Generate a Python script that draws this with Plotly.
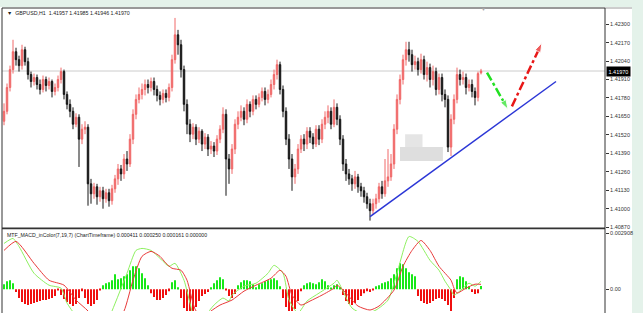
import plotly.graph_objects as go

# ---------------- data ----------------
bar_index = list(range(160))

opens = [
1.41616, 1.41686, 1.41854, 1.41980, 1.42106, 1.42050, 1.42008, 1.42120, 1.42036, 1.41945,
1.41896, 1.41924, 1.41875, 1.41840, 1.41910, 1.41868, 1.41896, 1.41826, 1.41854, 1.41910,
1.41966, 1.41805, 1.41735, 1.41686, 1.41595, 1.41644, 1.41490, 1.41560, 1.41574, 1.41175,
1.41105, 1.41154, 1.41084, 1.41126, 1.41070, 1.41112, 1.41056, 1.41140, 1.41210, 1.41280,
1.41245, 1.41350, 1.41315, 1.41490, 1.41665, 1.41770, 1.41805, 1.41840, 1.41875, 1.41854,
1.41896, 1.41840, 1.41798, 1.41770, 1.41812, 1.41784, 1.41854, 1.42050, 1.42225, 1.42155,
1.41980, 1.41735, 1.41595, 1.41525, 1.41574, 1.41490, 1.41546, 1.41455, 1.41504, 1.41420,
1.41441, 1.41406, 1.41490, 1.41560, 1.41665, 1.41350, 1.41280, 1.41420, 1.41595, 1.41644,
1.41686, 1.41630, 1.41735, 1.41686, 1.41770, 1.41735, 1.41784, 1.41826, 1.41770, 1.41805,
1.41875, 1.41945, 1.42015, 1.41840, 1.41686, 1.41490, 1.41350, 1.41224, 1.41280, 1.41420,
1.41490, 1.41455, 1.41546, 1.41504, 1.41455, 1.41560, 1.41490, 1.41595, 1.41644, 1.41686,
1.41595, 1.41714, 1.41630, 1.41490, 1.41315, 1.41245, 1.41210, 1.41175, 1.41224, 1.41154,
1.41126, 1.41084, 1.41035, 1.40986, 1.41035, 1.41070, 1.41154, 1.41105, 1.41196, 1.41224,
1.41315, 1.41560, 1.41770, 1.41910, 1.42050, 1.42120, 1.42085, 1.42015, 1.42036, 1.41980,
1.42050, 1.41945, 1.41994, 1.41910, 1.41966, 1.41840, 1.41924, 1.41805, 1.41770, 1.41434,
1.41630, 1.41770, 1.41945, 1.41910, 1.41924, 1.41854, 1.41875, 1.41826, 1.41784, 1.41957,
]

closes = [
1.41686, 1.41854, 1.41980, 1.42106, 1.42050, 1.42008, 1.42120, 1.42036, 1.41945, 1.41896,
1.41924, 1.41875, 1.41840, 1.41910, 1.41868, 1.41896, 1.41826, 1.41854, 1.41910, 1.41966,
1.41805, 1.41735, 1.41686, 1.41595, 1.41644, 1.41490, 1.41560, 1.41574, 1.41175, 1.41105,
1.41154, 1.41084, 1.41126, 1.41070, 1.41112, 1.41056, 1.41140, 1.41210, 1.41280, 1.41245,
1.41350, 1.41315, 1.41490, 1.41665, 1.41770, 1.41805, 1.41840, 1.41875, 1.41854, 1.41896,
1.41840, 1.41798, 1.41770, 1.41812, 1.41784, 1.41854, 1.42050, 1.42225, 1.42155, 1.41980,
1.41735, 1.41595, 1.41525, 1.41574, 1.41490, 1.41546, 1.41455, 1.41504, 1.41420, 1.41441,
1.41406, 1.41490, 1.41560, 1.41665, 1.41350, 1.41280, 1.41420, 1.41595, 1.41644, 1.41686,
1.41630, 1.41735, 1.41686, 1.41770, 1.41735, 1.41784, 1.41826, 1.41770, 1.41805, 1.41875,
1.41945, 1.42015, 1.41840, 1.41686, 1.41490, 1.41350, 1.41224, 1.41280, 1.41420, 1.41490,
1.41455, 1.41546, 1.41504, 1.41455, 1.41560, 1.41490, 1.41595, 1.41644, 1.41686, 1.41595,
1.41714, 1.41630, 1.41490, 1.41315, 1.41245, 1.41210, 1.41175, 1.41224, 1.41154, 1.41126,
1.41084, 1.41035, 1.40986, 1.41035, 1.41070, 1.41154, 1.41105, 1.41196, 1.41224, 1.41315,
1.41560, 1.41770, 1.41910, 1.42050, 1.42120, 1.42085, 1.42015, 1.42036, 1.41980, 1.42050,
1.41945, 1.41994, 1.41910, 1.41966, 1.41840, 1.41924, 1.41805, 1.41770, 1.41434, 1.41630,
1.41770, 1.41945, 1.41910, 1.41924, 1.41854, 1.41875, 1.41826, 1.41784, 1.41952, 1.41970,
]

highs = [
1.41742, 1.41882, 1.42008, 1.42190, 1.42134, 1.42078, 1.42155, 1.42141, 1.42064, 1.41966,
1.41952, 1.41945, 1.41910, 1.41938, 1.41931, 1.41924, 1.41910, 1.41882, 1.41938, 1.41994,
1.41980, 1.41826, 1.41770, 1.41714, 1.41672, 1.41665, 1.41595, 1.41616, 1.41595, 1.41210,
1.41182, 1.41175, 1.41154, 1.41154, 1.41140, 1.41140, 1.41168, 1.41238, 1.41315, 1.41308,
1.41385, 1.41406, 1.41525, 1.41700, 1.41805, 1.41854, 1.41882, 1.41910, 1.41910, 1.41924,
1.41924, 1.41868, 1.41826, 1.41840, 1.41840, 1.41882, 1.42085, 1.42344, 1.42260, 1.42190,
1.42008, 1.41770, 1.41630, 1.41602, 1.41595, 1.41574, 1.41560, 1.41532, 1.41525, 1.41476,
1.41469, 1.41518, 1.41588, 1.41714, 1.41700, 1.41385, 1.41455, 1.41630, 1.41686, 1.41728,
1.41714, 1.41770, 1.41756, 1.41798, 1.41798, 1.41812, 1.41854, 1.41854, 1.41840, 1.41910,
1.41980, 1.42050, 1.42036, 1.41868, 1.41714, 1.41525, 1.41385, 1.41315, 1.41455, 1.41518,
1.41525, 1.41574, 1.41574, 1.41532, 1.41588, 1.41588, 1.41630, 1.41686, 1.41728, 1.41714,
1.41770, 1.41742, 1.41658, 1.41518, 1.41350, 1.41280, 1.41238, 1.41266, 1.41245, 1.41182,
1.41154, 1.41112, 1.41070, 1.41070, 1.41105, 1.41182, 1.41196, 1.41350, 1.41420, 1.41385,
1.41595, 1.41805, 1.41945, 1.42085, 1.42176, 1.42176, 1.42120, 1.42078, 1.42064, 1.42092,
1.42078, 1.42036, 1.42022, 1.42008, 1.41994, 1.41952, 1.41952, 1.41840, 1.41798, 1.41665,
1.41805, 1.41994, 1.41980, 1.41966, 1.41952, 1.41910, 1.41910, 1.41854, 1.41966, 1.41985,
]

lows = [
1.41588, 1.41665, 1.41826, 1.41952, 1.42008, 1.41966, 1.41980, 1.42008, 1.41910, 1.41854,
1.41868, 1.41840, 1.41805, 1.41819, 1.41826, 1.41840, 1.41784, 1.41798, 1.41826, 1.41882,
1.41770, 1.41700, 1.41644, 1.41560, 1.41574, 1.41294, 1.41455, 1.41525, 1.41021, 1.41035,
1.41070, 1.41028, 1.41049, 1.41000, 1.41042, 1.41014, 1.41028, 1.41112, 1.41168, 1.41196,
1.41210, 1.41266, 1.41294, 1.41455, 1.41630, 1.41742, 1.41770, 1.41798, 1.41812, 1.41826,
1.41798, 1.41756, 1.41728, 1.41742, 1.41749, 1.41756, 1.41826, 1.42022, 1.42085, 1.41924,
1.41686, 1.41525, 1.41469, 1.41490, 1.41448, 1.41462, 1.41406, 1.41420, 1.41371, 1.41385,
1.41364, 1.41378, 1.41462, 1.41532, 1.41091, 1.41175, 1.41245, 1.41385, 1.41560, 1.41616,
1.41588, 1.41602, 1.41644, 1.41658, 1.41700, 1.41714, 1.41756, 1.41728, 1.41742, 1.41784,
1.41840, 1.41910, 1.41805, 1.41644, 1.41448, 1.41280, 1.41126, 1.41175, 1.41245, 1.41392,
1.41406, 1.41420, 1.41462, 1.41420, 1.41434, 1.41448, 1.41462, 1.41560, 1.41602, 1.41560,
1.41574, 1.41588, 1.41448, 1.41266, 1.41196, 1.41168, 1.41126, 1.41140, 1.41112, 1.41084,
1.41042, 1.41000, 1.40916, 1.40958, 1.41000, 1.41042, 1.41070, 1.41084, 1.41154, 1.41196,
1.41280, 1.41525, 1.41735, 1.41875, 1.42008, 1.42036, 1.41966, 1.41980, 1.41938, 1.41952,
1.41910, 1.41896, 1.41854, 1.41868, 1.41798, 1.41805, 1.41756, 1.41714, 1.41399, 1.41371,
1.41595, 1.41742, 1.41868, 1.41875, 1.41805, 1.41826, 1.41784, 1.41728, 1.41756, 1.41946,
]

macd_hist = [
0.000257, 0.000412, 0.000463, 0.000309, -0.000154, -0.000463, -0.000669, -0.000772, -0.000824, -0.000772,
-0.000721, -0.000669, -0.000618, -0.000566, -0.000566, -0.000515, -0.000463, -0.000360, -0.000051, -0.000309,
-0.000515, -0.000669, -0.000772, -0.000875, -0.000772, -0.000463, -0.000103, -0.000463, -0.000772, -0.000875,
-0.000772, -0.000566, -0.000051, 0.000206, 0.000309, 0.000360, 0.000463, 0.000772, 0.000515, 0.000566,
0.000669, 0.000772, 0.000978, 0.001184, 0.001184, 0.001081, 0.000824, 0.000566, 0.000206, -0.000206,
-0.000412, -0.000566, -0.000566, -0.000463, -0.000309, -0.000103, 0.000360, 0.000463, 0.000103, -0.000463,
-0.000978, -0.001287, -0.001235, -0.001132, -0.000926, -0.000618, -0.000360, -0.000257, -0.000154, 0.000103,
0.000309, 0.000463, 0.000618, 0.000515, -0.000051, -0.000360, -0.000463, -0.000257, 0.000206, 0.000360,
0.000463, 0.000463, 0.000412, 0.000257, 0.000103, 0.000257, 0.000309, 0.000412, 0.000463, 0.000515,
0.000566, 0.000463, 0.000154, -0.000463, -0.000926, -0.001235, -0.001287, -0.001029, -0.000618, -0.000103,
0.000206, 0.000309, 0.000360, 0.000309, 0.000257, 0.000360, 0.000515, 0.000412, 0.000206, 0.000051,
0.000206, 0.000257, 0.000103, -0.000309, -0.000618, -0.000772, -0.000824, -0.000721, -0.000566, -0.000360,
-0.000206, -0.000103, -0.000154, -0.000051, 0.000154, 0.000206, 0.000309, 0.000360, 0.000412, 0.000566,
0.000772, 0.001081, 0.001338, 0.001287, 0.001081, 0.000875, 0.000772, 0.000669, -0.000360, -0.000618,
-0.000721, -0.000772, -0.000721, -0.000618, -0.000515, -0.000463, -0.000515, -0.000618, -0.000824, -0.001132,
-0.000463, 0.000515, 0.000669, 0.000618, 0.000412, 0.000154, -0.000154, -0.000257, -0.000206, 0.000161,
]

macd_main_x = [0, 3, 5, 10, 15, 19, 21, 24, 29, 32, 36, 41, 44, 46, 49, 52, 55, 57, 60, 62,
               64, 67, 70, 73, 75, 76, 80, 84, 88, 90, 93, 95, 98, 101, 105, 110, 111, 113, 116, 120,
               124, 128, 131, 135, 138, 142, 145, 147, 149, 150, 153, 155, 157, 159]
macd_main = [0.002368, 0.002625, 0.002213, 0.000824, 0.000206, 0.000051, -0.000721, -0.00139, -0.002265, -0.002522,
             -0.001132, 0.000824, 0.002007, 0.00211, 0.002007, 0.001596, 0.001184, 0.001338, 0.000463, -0.000721,
             -0.00175, -0.00139, -0.000824, -0.000463, -0.000618, -0.000309, 0.000154, 0.000309, 0.000824, 0.001235,
             0.000824, -0.000566, -0.001235, -0.000618, -0.000206, 0.000309, 0.000463, -0.000103, -0.000978, -0.001287,
             -0.001081, -0.000566, 0.000824, 0.002728, 0.002471, 0.001493, 0.000978, 0.000412, -0.000051, -0.000309,
             0.000051, 0.000309, 0.000154, 0.000411]

macd_signal_x = [0, 4, 10, 15, 20, 24, 28, 32, 37, 40, 43, 46, 49, 52, 54, 56, 59, 61, 64, 67,
                 69, 72, 76, 80, 84, 89, 92, 94, 96, 99, 102, 106, 110, 111, 114, 118, 122, 125, 130, 133,
                 136, 139, 142, 145, 149, 150, 151, 154, 157, 159]
macd_signal = [0.002007, 0.002471, 0.001338, 0.000463, 0.000206, -0.000566, -0.001132, -0.002007, -0.00175, -0.001132,
               0.000463, 0.001699, 0.001956, 0.001699, 0.001338, 0.001081, 0.000978, 0.000463, -0.001132, -0.00139,
               -0.001132, -0.000824, -0.000566, -0.000103, 0.000206, 0.000566, 0.000978, 0.000669, -0.000309, -0.000824,
               -0.000618, -0.000309, 0.000051, 0.000206, -0.000206, -0.000875, -0.001081, -0.000875, -0.000051, 0.001184,
               0.002007, 0.002522, 0.002007, 0.001184, 0.000463, 0.000051, -0.000206, 0.000051, 0.000257, 0.000250]

price_ticks = [1.42300, 1.42170, 1.42040, 1.41910, 1.41780, 1.41650,
               1.41520, 1.41390, 1.41260, 1.41130, 1.41000, 1.40870]
macd_ticks = [0.002908, 0.0]
macd_tick_text = ["0.002908", "0.00"]
current_price = 1.41970

trend_x = [122, 184]
trend_y = [1.40944, 1.41896]
arrow_down_x = [161, 168]
arrow_down_y = [1.41959, 1.41700]
arrow_up_x = [169.3, 179.3]
arrow_up_y = [1.41721, 1.42169]

header_text = "▼  GBPUSD,H1  1.41957 1.41985 1.41946 1.41970"
macd_text = "MTF_MACD_inColor(7,19,7) (ChartTimeframe) 0.000411 0.000250 0.000161 0.000000"

# ---------------- figure ----------------
FONT = "Liberation Sans, Arial, sans-serif"
fig = go.Figure()

fig.add_trace(go.Candlestick(
    x=bar_index, open=opens, high=highs, low=lows, close=closes,
    increasing=dict(line=dict(color="#f06868", width=1), fillcolor="#f06868"),
    decreasing=dict(line=dict(color="#141414", width=1), fillcolor="#141414"),
    whiskerwidth=0, xaxis="x", yaxis="y", showlegend=False, hoverinfo="skip"))

fig.add_trace(go.Scatter(x=trend_x, y=trend_y, mode="lines",
                         line=dict(color="#2b36d6", width=1.5),
                         xaxis="x", yaxis="y", showlegend=False, hoverinfo="skip"))

fig.add_trace(go.Scatter(x=arrow_down_x, y=arrow_down_y, mode="lines+markers",
                         line=dict(color="#22e022", width=2.5, dash="dashdot"),
                         marker=dict(symbol="arrow", angleref="previous", size=[0, 10],
                                     color="#22e022"),
                         xaxis="x", yaxis="y", showlegend=False, hoverinfo="skip"))
fig.add_trace(go.Scatter(x=arrow_up_x, y=arrow_up_y, mode="lines+markers",
                         line=dict(color="#e81818", width=2.5, dash="dashdot"),
                         marker=dict(symbol="arrow", angleref="previous", size=[0, 10],
                                     color="#e81818"),
                         xaxis="x", yaxis="y", showlegend=False, hoverinfo="skip"))

hist_colors = ["#18e818" if v >= 0 else "#f01010" for v in macd_hist]
fig.add_trace(go.Bar(x=bar_index, y=macd_hist, marker=dict(color=hist_colors, line=dict(width=0)),
                     xaxis="x2", yaxis="y2", showlegend=False, hoverinfo="skip"))

fig.add_trace(go.Scatter(x=macd_main_x, y=macd_main, mode="lines",
                         line=dict(color="#8ef060", width=1, shape="spline", smoothing=0.6),
                         xaxis="x2", yaxis="y2", showlegend=False, hoverinfo="skip"))
fig.add_trace(go.Scatter(x=macd_signal_x, y=macd_signal, mode="lines",
                         line=dict(color="#e83a3a", width=1, shape="spline", smoothing=0.6),
                         xaxis="x2", yaxis="y2", showlegend=False, hoverinfo="skip"))

W, H = 643, 313
ML, MR, MT, MB = 2, 38, 8, 0
PW, PH = W - ML - MR, H - MT - MB


def px_x(px):
    return (px - ML) / PW


def px_y(py):
    return (H - MB - py) / PH


tick_font = dict(family=FONT, size=5.5, color="#333333")
xr = [-0.667, 200.33]

shapes = [
    # light green window chrome
    dict(type="rect", xref="paper", yref="paper", x0=px_x(-2), x1=px_x(645), y0=px_y(7), y1=px_y(-2),
         fillcolor="#e4f2ea", line=dict(width=0), layer="below"),
    dict(type="rect", xref="paper", yref="paper", x0=px_x(632), x1=px_x(645), y0=px_y(316), y1=px_y(-2),
         fillcolor="#e4f2ea", line=dict(width=0), layer="below"),
    # current price line
    dict(type="line", xref="paper", yref="y", x0=0, x1=1, y0=current_price, y1=current_price,
         line=dict(color="#cccccc", width=1), layer="below"),
    # grey smudge
    dict(type="rect", xref="x", yref="y", x0=132, x1=146.3, y0=1.41336, y1=1.41434,
         fillcolor="#dadada", line=dict(width=0), layer="above", opacity=0.9),
    dict(type="rect", xref="x", yref="y", x0=133.7, x1=139.5, y0=1.41434, y1=1.41525,
         fillcolor="#e2e2e2", line=dict(width=0), layer="above", opacity=0.9),
    # frame
    dict(type="line", xref="paper", yref="paper", x0=0, x1=1, y0=1, y1=1,
         line=dict(color="#333333", width=1)),
    dict(type="line", xref="paper", yref="paper", x0=1, x1=px_x(632), y0=1, y1=1,
         line=dict(color="#9a9a9a", width=1)),
    dict(type="line", xref="paper", yref="paper", x0=0, x1=0, y0=-0.01, y1=1,
         line=dict(color="#333333", width=1)),
    dict(type="line", xref="paper", yref="paper", x0=1, x1=1, y0=-0.01, y1=1,
         line=dict(color="#333333", width=1)),
    dict(type="line", xref="paper", yref="paper", x0=0, x1=1, y0=px_y(229.8), y1=px_y(229.8),
         line=dict(color="#333333", width=1.6)),
]

annotations = [
    dict(xref="paper", yref="paper", x=px_x(5), y=px_y(13), xanchor="left", yanchor="middle",
         text=header_text, showarrow=False, font=dict(family=FONT, size=5.3, color="#222222")),
    dict(xref="paper", yref="paper", x=px_x(5), y=px_y(237), xanchor="left", yanchor="middle",
         text=macd_text, showarrow=False, font=dict(family=FONT, size=5.2, color="#222222")),
    dict(xref="paper", yref="y", x=1, y=current_price, xanchor="left", yanchor="middle", xshift=1,
         text="%.5f" % current_price, showarrow=False, bgcolor="#000000", borderpad=1.5,
         font=dict(family=FONT, size=5.5, color="#ffffff")),
    dict(xref="x", yref="paper", x=159.7, y=px_y(9.5), xanchor="center", yanchor="middle",
         text="▼", showarrow=False, font=dict(family=FONT, size=5, color="#aaaaaa")),
]

fig.update_layout(
    width=W, height=H,
    margin=dict(l=ML, r=MR, t=MT, b=MB, pad=0),
    paper_bgcolor="#ffffff", plot_bgcolor="#ffffff",
    showlegend=False, hovermode=False, bargap=0.35,
    xaxis=dict(domain=[0, 1], range=xr, anchor="y", showticklabels=False, showgrid=False,
               zeroline=False, showline=False, ticks="", rangeslider=dict(visible=False),
               fixedrange=True),
    xaxis2=dict(domain=[0, 1], range=xr, anchor="y2", showticklabels=False, showgrid=False,
                zeroline=False, showline=False, ticks="", matches="x", fixedrange=True),
    yaxis=dict(domain=[px_y(229), 1], range=[1.40867, 1.42414], anchor="x", side="right",
               tickvals=price_ticks, ticktext=["%.5f" % v for v in price_ticks],
               ticks="outside", ticklen=3, tickcolor="#333333", tickwidth=1,
               tickfont=tick_font, showgrid=False, zeroline=False, showline=False,
               fixedrange=True),
    yaxis2=dict(domain=[0, px_y(231)], range=[-0.001132, 0.003088], anchor="x2", side="right",
                tickvals=macd_ticks, ticktext=macd_tick_text,
                ticks="outside", ticklen=3, tickcolor="#333333", tickwidth=1,
                tickfont=tick_font, showgrid=False, zeroline=False, showline=False,
                fixedrange=True),
    shapes=shapes, annotations=annotations,
)

fig.write_html("out.html")
